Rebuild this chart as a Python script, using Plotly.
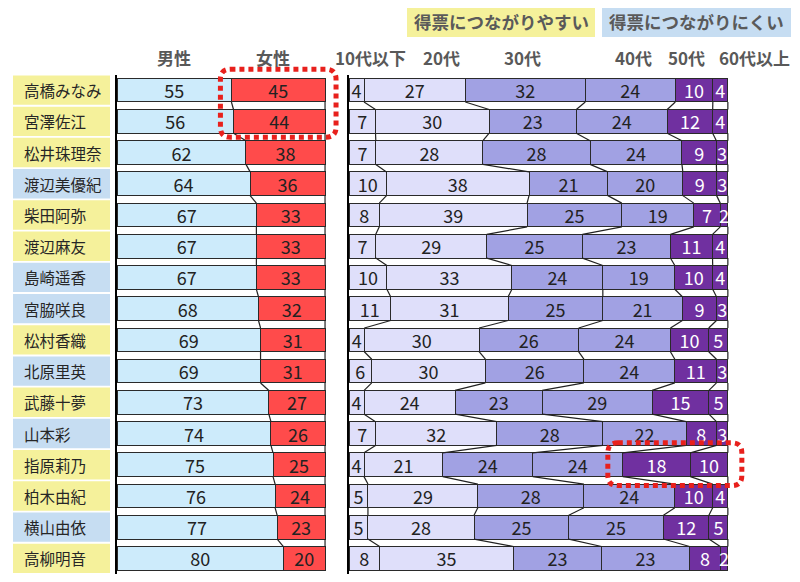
import plotly.graph_objects as go

names = ["高橋みなみ", "宮澤佐江", "松井珠理奈", "渡辺美優紀", "柴田阿弥", "渡辺麻友",
         "島崎遥香", "宮脇咲良", "松村香織", "北原里英", "武藤十夢", "山本彩",
         "指原莉乃", "柏木由紀", "横山由依", "高柳明音"]
# easy = 得票につながりやすい, hard = 得票につながりにくい
group = ["easy", "easy", "easy", "hard", "easy", "easy", "hard", "hard",
         "easy", "hard", "easy", "hard", "easy", "easy", "hard", "easy"]

male = [55, 56, 62, 64, 67, 67, 67, 68, 69, 69, 73, 74, 75, 76, 77, 80]
female = [45, 44, 38, 36, 33, 33, 33, 32, 31, 31, 27, 26, 25, 24, 23, 20]

age_labels = ["10代以下", "20代", "30代", "40代", "50代", "60代以上"]
age_10 = [4, 7, 7, 10, 8, 7, 10, 11, 4, 6, 4, 7, 4, 5, 5, 8]
age_20 = [27, 30, 28, 38, 39, 29, 33, 31, 30, 30, 24, 32, 21, 29, 28, 35]
age_30 = [32, 23, 28, 21, 25, 25, 24, 25, 26, 26, 23, 28, 24, 28, 25, 23]
age_40 = [24, 24, 24, 20, 19, 23, 19, 21, 24, 24, 29, 22, 24, 24, 25, 23]
age_50 = [10, 12, 9, 9, 7, 11, 10, 9, 10, 11, 15, 8, 18, 10, 12, 8]
age_60 = [4, 4, 3, 3, 2, 4, 4, 3, 5, 3, 5, 3, 10, 4, 5, 2]

# the page body has an 8px margin, so the figure is drawn 8px in from the window edge
OFF = 8
W, H = 800 - 2 * OFF, 582 - 2 * OFF
FONT = "Noto Sans CJK JP"
rows = list(range(len(names)))
n = len(rows)
HALF = 0.38  # half bar height in row units (bargap 0.24)

# window-pixel layout
gx0, gx1 = 117, 326.5
ax0, ax1 = 349, 730.5
ytop, ybot = 74.5, 574
XMAX = 100.7


def PX(x):
    return (x - OFF) / W


def PY(y):
    return min(1, max(0, 1 - (y - OFF) / H))


def px_x(v, age=False):
    a, b = (ax0, ax1) if age else (gx0, gx1)
    return a + v / XMAX * (b - a)


def px_y(v):
    return ytop + (v + 0.5) / n * (ybot - ytop)


fig = go.Figure()

gender_cols = ["#CDEBFB", "#FF4B4B"]
for vals, col in zip([male, female], gender_cols):
    fig.add_trace(go.Bar(
        y=rows, x=vals, orientation="h", marker=dict(color=col, line=dict(color="#2a2a2a", width=1)),
        text=vals, texttemplate="%{text}", textposition="inside", insidetextanchor="middle",
        textangle=0, textfont=dict(color="#222", size=18, family=FONT), xaxis="x", yaxis="y",
        showlegend=False, hoverinfo="skip"))

ages = [age_10, age_20, age_30, age_40, age_50, age_60]
age_cols = ["#DFDFFA", "#DFDFFA", "#A1A1E3", "#A1A1E3", "#7030A0", "#7030A0"]
age_txt = ["#222", "#222", "#222", "#222", "white", "white"]
for vals, col, tc in zip(ages, age_cols, age_txt):
    fig.add_trace(go.Bar(
        y=rows, x=vals, orientation="h", marker=dict(color=col, line=dict(color="#2a2a2a", width=1)),
        text=vals, texttemplate="%{text}", textposition="inside", insidetextanchor="middle",
        textangle=0, textfont=dict(color=tc, size=18, family=FONT), xaxis="x2", yaxis="y2",
        showlegend=False, hoverinfo="skip"))


def connectors(stacks):
    totals = [sum(r) for r in zip(*stacks)]
    cum = [0] * n
    xs, ys = [], []
    for series in stacks:
        cum = [c + v for c, v in zip(cum, series)]
        pct = [c / t * 100 for c, t in zip(cum, totals)]
        for i in range(n - 1):
            xs += [pct[i], pct[i + 1], None]
            ys += [i + HALF, i + 1 - HALF, None]
    return xs, ys, totals


gx, gy, _ = connectors([male, female])
fig.add_trace(go.Scatter(x=gx, y=gy, mode="lines", line=dict(color="#222", width=1.2),
                         xaxis="x", yaxis="y", showlegend=False, hoverinfo="skip"))
axx, ayy, age_tot = connectors(ages)
fig.add_trace(go.Scatter(x=axx, y=ayy, mode="lines", line=dict(color="#222", width=1.2),
                         xaxis="x2", yaxis="y2", showlegend=False, hoverinfo="skip"))

shapes = []
annotations = []

# name boxes
for i, (nm, g) in enumerate(zip(names, group)):
    shapes.append(dict(type="rect", xref="paper", yref="y", x0=PX(13), x1=PX(110),
                       y0=i - 0.47, y1=i + 0.47, line=dict(width=0),
                       fillcolor="#F5F19B" if g == "easy" else "#C6DDF2", layer="below"))
    annotations.append(dict(xref="paper", yref="y", x=PX(22), y=i, text=nm, showarrow=False,
                            xanchor="left", yanchor="middle",
                            font=dict(size=15.5, color="#262626", family=FONT)))

# legend boxes
for x0, x1, txt, col in [(407, 595, "得票につながりやすい", "#F5F19B"),
                         (602, 791, "得票につながりにくい", "#C6DDF2")]:
    shapes.append(dict(type="rect", xref="paper", yref="paper", x0=PX(x0), x1=PX(x1),
                       y0=PY(37), y1=PY(7), line=dict(width=0), fillcolor=col))
    annotations.append(dict(xref="paper", yref="paper", x=PX((x0 + x1) / 2), y=PY(22),
                            text="<b>" + txt + "</b>", showarrow=False, xanchor="center",
                            yanchor="middle", font=dict(size=17.5, color="#5a5a5a", family=FONT)))

# column headers
header_x = [174, 273, 370, 441, 522, 633, 686, 754]
for hx, lab in zip(header_x, ["男性", "女性"] + age_labels):
    annotations.append(dict(xref="paper", yref="paper", x=PX(hx), y=PY(58),
                            text="<b>" + lab + "</b>", showarrow=False, xanchor="center",
                            yanchor="middle", font=dict(size=17, color="#595959", family=FONT)))


def rounded(x0, x1, y0, y1, r=10):
    # window-pixel rectangle -> rounded path in paper coords
    def P(x, y):
        return f"{PX(x):.5f},{PY(y):.5f}"
    return (f"M {P(x0 + r, y0)} L {P(x1 - r, y0)} Q {P(x1, y0)} {P(x1, y0 + r)} "
            f"L {P(x1, y1 - r)} Q {P(x1, y1)} {P(x1 - r, y1)} L {P(x0 + r, y1)} "
            f"Q {P(x0, y1)} {P(x0, y1 - r)} L {P(x0, y0 + r)} Q {P(x0, y0)} {P(x0 + r, y0)} Z")


red = dict(color="#E8201C", width=5, dash="5px,4px")
# female share of the top two rows
b1 = rounded(px_x(male[0]) - 11, px_x(100) + 11, px_y(0 - HALF) - 9, px_y(1 + HALF) + 4)
shapes.append(dict(type="path", xref="paper", yref="paper", path=b1, line=red))
# 50代 + 60代 of 指原莉乃
k = names.index("指原莉乃")
start50 = sum(a[k] for a in ages[:4]) / age_tot[k] * 100
b2 = rounded(px_x(start50, True) - 15, px_x(100, True) + 14, px_y(k - HALF) - 10, px_y(k + HALF) + 9)
shapes.append(dict(type="path", xref="paper", yref="paper", path=b2, line=red))

ax_common = dict(range=[0, XMAX], showticklabels=False, showgrid=False, zeroline=False, fixedrange=True)
ydom = [PY(ybot), PY(ytop)]
y_common = dict(range=[n - 0.5, -0.5], domain=ydom, showticklabels=False, showgrid=False,
                zeroline=False, showline=True, linecolor="black", linewidth=2)

fig.update_layout(
    width=W, height=H, margin=dict(l=0, r=0, t=0, b=0),
    paper_bgcolor="white", plot_bgcolor="rgba(0,0,0,0)",
    barmode="stack", barnorm="percent", bargap=0.24,
    uniformtext=dict(minsize=18, mode="show"),
    font=dict(family=FONT),
    xaxis=dict(domain=[PX(gx0), PX(gx1)], anchor="y", **ax_common),
    xaxis2=dict(domain=[PX(ax0), PX(ax1)], anchor="y2", **ax_common),
    yaxis=dict(anchor="x", **y_common),
    yaxis2=dict(anchor="x2", matches="y", **y_common),
    shapes=shapes, annotations=annotations,
)

fig.write_html("out.html")
